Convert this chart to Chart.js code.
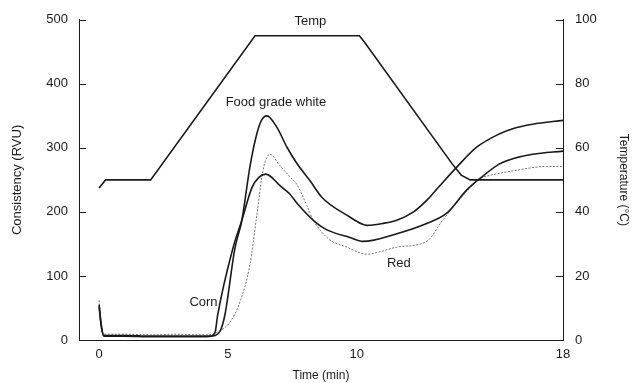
<!DOCTYPE html>
<html>
<head>
<meta charset="utf-8">
<script src="https://cdn.jsdelivr.net/npm/chart.js@4.4.0/dist/chart.umd.min.js"></script>
<style>
  html, body { margin: 0; padding: 0; background: #fff; }
</style>
</head>
<body>
<canvas id="rvaChart" width="632" height="383"></canvas>
<script>
// time (min) / consistency (RVU)
const fgTimes  = [0, 0.08, 0.18, 1, 2, 3, 4, 4.5, 4.7, 4.88, 5.27, 5.54, 5.85, 6.12, 6.3, 6.51, 6.9, 7.29, 7.67, 8.18, 8.64, 9.73, 10.2, 10.39, 11.0, 11.55, 12.2, 12.71, 13.2, 13.88, 14.65, 15.54, 16.05, 16.82, 18];
const foodGrade = [55, 25, 6, 6, 5, 5, 5, 7, 14, 39, 143, 187, 270, 322, 343, 350, 332, 301, 276, 249, 223, 192, 181, 179, 182, 187, 200, 218, 240, 270, 301, 322, 330, 337, 343];

const cornTimes = [0, 0.08, 0.18, 1, 2, 3, 4, 4.3, 4.5, 4.6, 5.19, 5.54, 5.93, 6.2, 6.47, 7.02, 7.4, 7.67, 8.45, 8.84, 9.73, 10.23, 11.55, 12.71, 13.49, 14.26, 14.77, 15.54, 16.05, 16.82, 18];
const corn      = [52, 22, 7, 7, 6, 6, 6, 6, 12, 39, 143, 187, 238, 254, 259, 241, 228, 214, 182, 172, 160, 154, 166, 182, 198, 234, 252, 275, 283, 290, 295];

const redTimes  = [0, 0.08, 0.18, 1, 2, 3, 4, 4.4, 4.57, 5.08, 5.47, 5.85, 6.12, 6.36, 6.63, 7.0, 7.4, 7.67, 8.06, 8.3, 8.9, 9.61, 10.39, 11.0, 11.55, 12.71, 13.33, 14.26, 14.77, 15.16, 16.05, 17.36, 18];
const red       = [62, 28, 9, 9, 8, 9, 8, 9, 12, 28, 60, 117, 195, 265, 290, 273, 255, 243, 210, 188, 158, 145, 134, 139, 145, 154, 187, 232, 252, 257, 264, 271, 271];

// time (min) / temperature (°C)
const tempTimes = [0, 0.25, 2.0, 6.05, 10.1, 10.3, 13.7, 14.05, 14.4, 18];
const tempC     = [47.5, 50, 50, 95, 95, 93, 55, 51.5, 50, 50];

const xTicks = [0, 5, 10, 18];

// curve names placed near their curves (time, RVU)
const curveLabels = [
  { text: 'Temp', t: 8.2, v: 497 },
  { text: 'Food grade white', t: 6.86, v: 371 },
  { text: 'Corn', t: 4.05, v: 59 },
  { text: 'Red', t: 11.63, v: 120 }
];

const FONT = '"Liberation Sans", Arial, Helvetica, sans-serif';
const INK = '#1a1a1a';

function pts(xs, ys) {
  return xs.map((x, i) => ({ x: x, y: ys[i] }));
}

// short tick marks pointing into the plot
const innerTicks = {
  id: 'innerTicks',
  afterDatasetsDraw(chart) {
    const ctx = chart.ctx, a = chart.chartArea;
    ctx.save();
    ctx.strokeStyle = INK;
    ctx.lineWidth = 1;
    chart.scales.y.ticks.forEach(t => {
      const py = Math.round(chart.scales.y.getPixelForValue(t.value)) + 0.5;
      ctx.beginPath(); ctx.moveTo(a.left, py); ctx.lineTo(a.left + 7, py); ctx.stroke();
    });
    chart.scales.y2.ticks.forEach(t => {
      const py = Math.round(chart.scales.y2.getPixelForValue(t.value)) + 0.5;
      ctx.beginPath(); ctx.moveTo(a.right, py); ctx.lineTo(a.right - 7, py); ctx.stroke();
    });
    ctx.restore();
  }
};

const curveNames = {
  id: 'curveNames',
  afterDatasetsDraw(chart) {
    const ctx = chart.ctx;
    ctx.save();
    ctx.font = '13px ' + FONT;
    ctx.fillStyle = INK;
    ctx.textAlign = 'center';
    ctx.textBaseline = 'middle';
    curveLabels.forEach(l => {
      ctx.fillText(l.text, chart.scales.x.getPixelForValue(l.t), chart.scales.y.getPixelForValue(l.v));
    });
    ctx.restore();
  }
};

const CHART = document.getElementById('rvaChart');
let rvaChart = new Chart(CHART, {
  type: 'line',
  data: {
    datasets: [
      {
        label: 'Temp',
        data: pts(tempTimes, tempC),
        yAxisID: 'y2',
        borderColor: INK,
        borderWidth: 1.6,
        tension: 0
      },
      {
        label: 'Food grade white',
        data: pts(fgTimes, foodGrade),
        yAxisID: 'y',
        borderColor: INK,
        borderWidth: 1.6,
        cubicInterpolationMode: 'monotone'
      },
      {
        label: 'Corn',
        data: pts(cornTimes, corn),
        yAxisID: 'y',
        borderColor: INK,
        borderWidth: 1.6,
        cubicInterpolationMode: 'monotone'
      },
      {
        label: 'Red',
        data: pts(redTimes, red),
        yAxisID: 'y',
        borderColor: '#6e6e6e',
        borderWidth: 1,
        borderDash: [2, 1.5],
        cubicInterpolationMode: 'monotone'
      }
    ]
  },
  options: {
    responsive: false,
    animation: false,
    devicePixelRatio: 1,
    elements: { point: { radius: 0 } },
    layout: { padding: { top: 19, right: 0, bottom: 0, left: 0 } },
    plugins: { legend: { display: false }, tooltip: { enabled: false } },
    scales: {
      x: {
        type: 'linear',
        min: -0.78,
        max: 18,
        afterBuildTicks: s => { s.ticks = xTicks.map(v => ({ value: v })); },
        afterFit: s => { s.height = 43; },
        grid: { display: false, drawTicks: false },
        border: { display: true, color: INK, width: 1 },
        ticks: { padding: 7, color: INK, font: { family: FONT, size: 13 }, maxRotation: 0 },
        title: { display: true, text: 'Time (min)', color: INK, padding: { top: 0, bottom: 0 }, font: { family: FONT, size: 12 } }
      },
      y: {
        position: 'left',
        min: 0,
        max: 500,
        afterFit: s => { s.width = 79; },
        grid: { display: false, drawTicks: false },
        border: { display: true, color: INK, width: 1 },
        ticks: { stepSize: 100, padding: 11, color: INK, font: { family: FONT, size: 13 } },
        title: { display: true, text: 'Consistency (RVU)', color: INK, padding: { top: 10, bottom: 0 }, font: { family: FONT, size: 13 } }
      },
      y2: {
        position: 'right',
        min: 0,
        max: 100,
        afterFit: s => { s.width = 69; },
        grid: { display: false, drawTicks: false },
        border: { display: true, color: INK, width: 1 },
        ticks: { stepSize: 20, padding: 12, color: INK, font: { family: FONT, size: 13 } },
        title: { display: true, text: 'Temperature (°C)', color: INK, padding: { top: 1, bottom: 0 }, font: { family: FONT, size: 12 } }
      }
    }
  },
  plugins: [innerTicks, curveNames]
});
</script>
</body>
</html>
